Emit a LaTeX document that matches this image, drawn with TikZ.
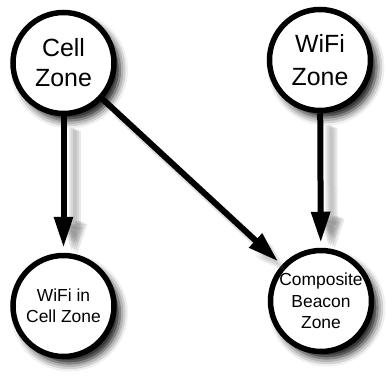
\documentclass[tikz,border=0pt]{standalone}
\usepackage{fontspec}
\setmainfont{Liberation Sans}
\usetikzlibrary{arrows.meta,shadows.blur}
\begin{document}
\begin{tikzpicture}[x=1bp,y=-1bp,
  zone/.style={circle, draw=black, line width=5.5bp, fill=white,
    minimum size=101bp, inner sep=0pt, align=center,
    blur shadow={shadow xshift=6bp, shadow yshift=-7bp,
      shadow blur radius=8bp, shadow opacity=95}},
  bigtext/.style={font=\fontsize{25}{31}\selectfont},
  smalltext/.style={font=\fontsize{17.5}{21.5}\selectfont},
  link/.style={line width=6bp, draw=black,
    -{Triangle[length=31bp,width=18bp]}, shorten >=5bp},
  linkshade/.style={link, draw=black!55, opacity=0.16, shorten <=8bp}
]
\useasboundingbox (0,0) rectangle (388,382);

% zones
\node[zone, bigtext] (cell) at (63.5,63) {Cell\\[-1bp]Zone};
\node[zone, bigtext] (wifi) at (320,60) {WiFi\\[2bp]Zone};
\node[zone, smalltext] (wic) at (63.5,306) {WiFi in\\Cell Zone};
\node[zone, smalltext] (cbz) at (321,301) {Composite\\Beacon\\Zone};

% soft shadows of the connectors
\foreach \dx/\dy in {8/4,10/5,12/6,14/7} {
  \draw[linkshade, transform canvas={shift={(\dx,\dy)}}] (cell) -- (wic);
  \draw[linkshade, transform canvas={shift={(\dx,\dy)}}] (wifi) -- (cbz);
}
\foreach \dx/\dy in {6/8,8/10,10/12} {
  \draw[linkshade, opacity=0.08, transform canvas={shift={(\dx,\dy)}}] (cell) -- (cbz);
}

% connectors
\draw[link] (cell) -- (wic);
\draw[link] (wifi) -- (cbz);
\draw[link] (cell) -- (cbz);
\end{tikzpicture}
\end{document}
